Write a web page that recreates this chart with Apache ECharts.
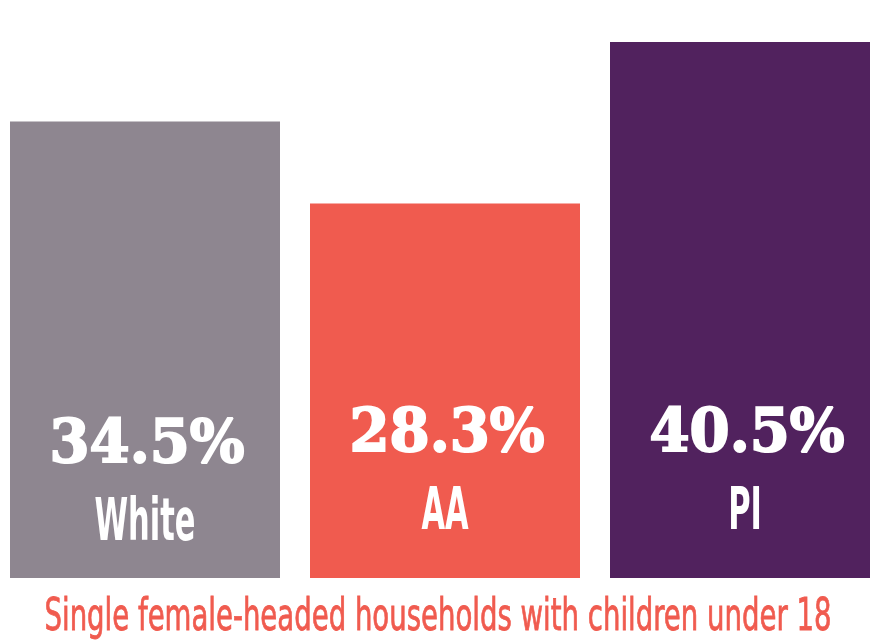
<!DOCTYPE html>
<html>
<head>
<meta charset="utf-8">
<script src="https://cdn.jsdelivr.net/npm/echarts@6/dist/echarts.min.js"></script>
<style>html,body{margin:0;padding:0;background:#fff;}#c{width:870px;height:640px;}</style>
</head>
<body>
<div id="c"></div>
<script>
const categories = ['White', 'AA', 'PI'];
const values = [34.5, 28.3, 40.5];
const valueLabels = ['34.5%', '28.3%', '40.5%'];
const barColors = ['#8e8690', '#f05b4f', '#51225e'];
const titleText = 'Single female-headed households with children under 18';

const PCT_FONT = '"DejaVu Serif", serif';
const CAT_FONT = '"Liberation Sans Narrow", "DejaVu Sans Condensed", sans-serif';
const cv = document.createElement('canvas').getContext('2d');
function measure(text, size, family, weight) {
  cv.font = (weight || 'normal') + ' ' + size + 'px ' + family;
  return cv.measureText(text).width;
}
const pctSize = 59, catSize = 58, titleSize = 44;
const pctScale = 195 / measure('34.5%', pctSize, PCT_FONT, 'bold');
const catScale = 101 / measure('White', catSize, CAT_FONT, 'bold');
const titleScale = 787 / measure(titleText, titleSize, CAT_FONT, 'normal');
const nudge = [11, 0, 0];

const chart = echarts.init(document.getElementById('c'));
chart.setOption({
  animation: false,
  backgroundColor: '#ffffff',
  grid: { left: -5, width: 900, top: 42, bottom: 62, containLabel: false, outerBoundsMode: 'none' },
  xAxis: { type: 'category', data: categories, show: false, boundaryGap: true },
  yAxis: { type: 'value', min: 0, max: 40.5, show: false },
  graphic: [{
    type: 'text', x: 438, y: 619,
    scaleX: titleScale,
    style: { text: titleText, fill: '#f05b4f', align: 'center', verticalAlign: 'middle',
             stroke: '#f05b4f', lineWidth: 0.8,
             font: 'normal ' + titleSize + 'px ' + CAT_FONT }
  }],
  series: [{
    type: 'bar',
    barWidth: 270,
    data: values.map((v, i) => ({ value: v, itemStyle: { color: barColors[i] } })),
    silent: true
  }, {
    type: 'custom',
    data: values.map((v, i) => [i, v]),
    z: 10,
    silent: true,
    renderItem: function (params, api) {
      const i = params.dataIndex;
      const p = api.coord([api.value(0), 0]);
      const x = p[0] + 2;
      const base = p[1] + nudge[i];
      return {
        type: 'group',
        children: [{
          type: 'text', x: x, y: base - 142, scaleX: pctScale,
          style: { text: valueLabels[i], fill: '#fff', align: 'center', verticalAlign: 'middle',
                   stroke: '#fff', lineWidth: 2,
                   font: 'bold ' + pctSize + 'px ' + PCT_FONT }
        }, {
          type: 'text', x: x - 2, y: base - 64, scaleX: catScale,
          style: { text: categories[i], fill: '#fff', align: 'center', verticalAlign: 'middle',
                   font: 'bold ' + catSize + 'px ' + CAT_FONT }
        }]
      };
    }
  }]
});
</script>
</body>
</html>
